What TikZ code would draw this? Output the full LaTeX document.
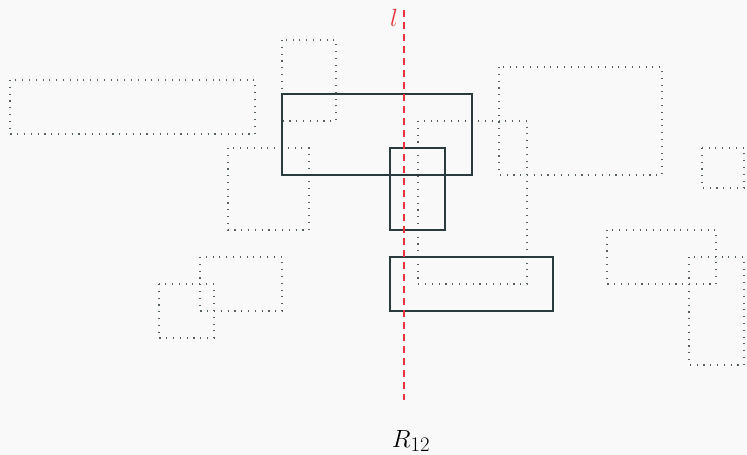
\documentclass[tikz,border=0pt]{standalone}
\usepackage{tikz}
\definecolor{bg}{HTML}{F9F9F9}
\definecolor{ink}{HTML}{2B3A3C}
\definecolor{lred}{HTML}{E8343E}
\tikzset{
  faded/.style={draw=ink!80, line width=1.1pt, dash pattern=on 1.1pt off 5.7pt},
  chosen/.style={draw=ink, line width=1.05pt},
  sweep/.style={draw=lred, line width=1.6pt, dash pattern=on 7pt off 5pt},
}
\begin{document}
\begin{tikzpicture}[x=1pt,y=-1pt]
  \fill[bg] (0,0) rectangle (747,455);
  \useasboundingbox (0,0) rectangle (747,455);
  % unchosen rectangles
  \draw[faded] (10,80) rectangle (255,134);
  \draw[faded] (282,40) rectangle (336,121);
  \draw[faded] (228,148) rectangle (309,230);
  \draw[faded] (200,257) rectangle (282,311);
  \draw[faded] (159,284) rectangle (214,338);
  \draw[faded] (499,67) rectangle (662,175);
  \draw[faded] (418,121) rectangle (527,284);
  \draw[faded] (702,148) rectangle (744,188);
  \draw[faded] (607,230) rectangle (716,284);
  \draw[faded] (689,257) rectangle (744,365);
  % rectangles crossing the line
  \draw[chosen] (282,94) rectangle (472,175);
  \draw[chosen] (390,148) rectangle (445,230);
  \draw[chosen] (390,257) rectangle (553,311);
  % sweep line
  \coordinate (top) at (404,10);
  \coordinate (bot) at (404,400);
  \draw[sweep] (top) -- (bot);
  \node[text=lred, font=\fontsize{29}{34}\selectfont, anchor=base] (lab) at (394,26) {$l$};
  \node[font=\fontsize{29}{34}\selectfont, anchor=base] (name) at (411,447) {$R_{12}$};
\end{tikzpicture}
\end{document}
